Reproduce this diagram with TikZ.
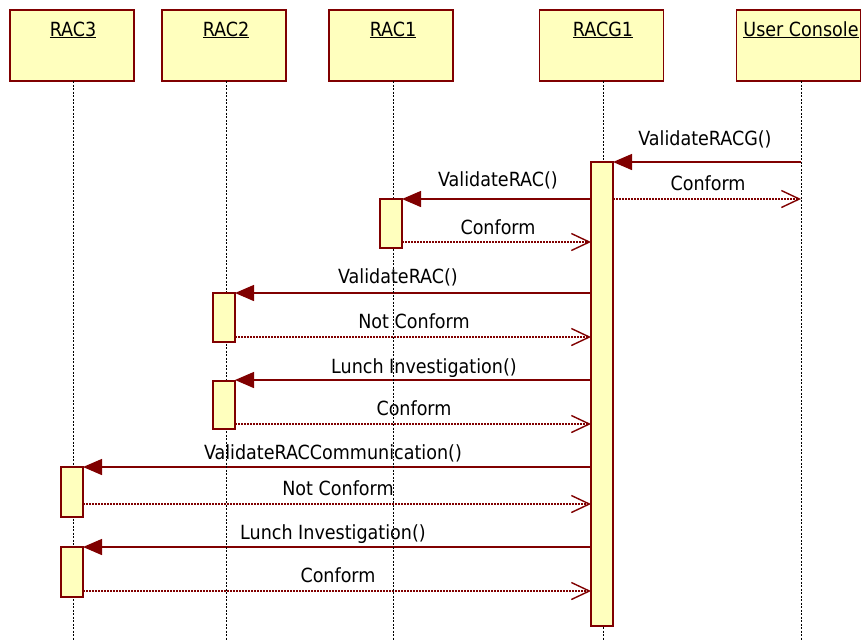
\documentclass[tikz,border=0pt]{standalone}
\usepackage{fontspec}
\setmainfont{DejaVu Sans Condensed}
\usetikzlibrary{arrows.meta}
\definecolor{dred}{RGB}{128,0,0}
\definecolor{lyel}{RGB}{255,255,190}
\tikzset{
  objbox/.style={draw=dred, fill=lyel, line width=1.6pt, minimum width=124pt, minimum height=71pt, inner sep=0pt},
  actbar/.style={draw=dred, fill=lyel, line width=1.4pt},
  lifeline/.style={black, line width=1pt, dash pattern=on 2pt off 1.5pt},
  syncmsg/.style={dred, line width=1.4pt, -{Triangle[length=19pt,width=16pt]}},
  retmsg/.style={dred, line width=1.2pt, dash pattern=on 2pt off 1pt, -{Straight Barb[length=18pt,width=17pt,line width=1.4pt]}},
  lbl/.style={inner sep=0pt, anchor=base, font=\fontsize{19.5}{22}\selectfont},
}
\begin{document}
\begin{tikzpicture}[x=1pt,y=-1pt]
\useasboundingbox (0,0) rectangle (861,641);
% header boxes
\node[objbox] (h3) at (72,45.5) {};
\node[objbox] (h2) at (224,45.5) {};
\node[objbox] (h1) at (391,45.5) {};
\node[objbox] (hg) at (601.5,45.5) {};
\node[objbox] (hu) at (798.5,45.5) {};
\node[lbl] (t3) at (73,36) {\underline{RAC3}};
\node[lbl] (t2) at (226,36) {\underline{RAC2}};
\node[lbl] (t1) at (393,36) {\underline{RAC1}};
\node[lbl] (tg) at (603,36) {\underline{RACG1}};
\node[lbl] (tu) at (801,36) {\underline{User Console}};
% lifeline ends
\coordinate (l3a) at (73,81); \coordinate (l3b) at (73,641);
\coordinate (l2a) at (226,81); \coordinate (l2b) at (226,641);
\coordinate (l1a) at (393,81); \coordinate (l1b) at (393,641);
\coordinate (lga) at (603,81); \coordinate (lgb) at (603,641);
\coordinate (lua) at (801,81); \coordinate (lub) at (801,641);
% activation bar corners
\coordinate (bg1) at (591,162); \coordinate (bg2) at (613,626);
\coordinate (b11) at (380,199); \coordinate (b12) at (402,248);
\coordinate (b21) at (213,293); \coordinate (b22) at (235,342);
\coordinate (b23) at (213,381); \coordinate (b24) at (235,429);
\coordinate (b31) at (61,467);  \coordinate (b32) at (83,517);
\coordinate (b33) at (61,547);  \coordinate (b34) at (83,597);
% message end points
\coordinate (m1s) at (801,162); \coordinate (m1e) at (613,162);
\coordinate (m2s) at (613,199); \coordinate (m2e) at (801,199);
\coordinate (m3s) at (591,199); \coordinate (m3e) at (402,199);
\coordinate (m4s) at (402,242); \coordinate (m4e) at (591,242);
\coordinate (m5s) at (591,293); \coordinate (m5e) at (235,293);
\coordinate (m6s) at (235,337); \coordinate (m6e) at (591,337);
\coordinate (m7s) at (591,380); \coordinate (m7e) at (235,380);
\coordinate (m8s) at (235,424); \coordinate (m8e) at (591,424);
\coordinate (m9s) at (591,467); \coordinate (m9e) at (83,467);
\coordinate (m10s) at (83,504); \coordinate (m10e) at (591,504);
\coordinate (m11s) at (591,547); \coordinate (m11e) at (83,547);
\coordinate (m12s) at (83,591); \coordinate (m12e) at (591,591);
% messages
\draw[syncmsg] (m1s) -- (m1e);
\draw[retmsg] (m2s) -- (m2e);
\draw[syncmsg] (m3s) -- (m3e);
\draw[retmsg] (m4s) -- (m4e);
\draw[syncmsg] (m5s) -- (m5e);
\draw[retmsg] (m6s) -- (m6e);
\draw[syncmsg] (m7s) -- (m7e);
\draw[retmsg] (m8s) -- (m8e);
\draw[syncmsg] (m9s) -- (m9e);
\draw[retmsg] (m10s) -- (m10e);
\draw[syncmsg] (m11s) -- (m11e);
\draw[retmsg] (m12s) -- (m12e);
% labels
\node[lbl] (n1) at (705,145) {ValidateRACG()};
\node[lbl] (n2) at (708,190) {Conform};
\node[lbl] (n3) at (498,186) {ValidateRAC()};
\node[lbl] (n4) at (498,234) {Conform};
\node[lbl] (n5) at (398,283) {ValidateRAC()};
\node[lbl] (n6) at (414,328) {Not Conform};
\node[lbl] (n7) at (424,373) {Lunch Investigation()};
\node[lbl] (n8) at (414,415) {Conform};
\node[lbl] (n9) at (333,459) {ValidateRACCommunication()};
\node[lbl] (n10) at (338,495) {Not Conform};
\node[lbl] (n11) at (333,539) {Lunch Investigation()};
\node[lbl] (n12) at (338,582) {Conform};
% lifelines
\draw[lifeline] (l3a) -- (l3b);
\draw[lifeline] (l2a) -- (l2b);
\draw[lifeline] (l1a) -- (l1b);
\draw[lifeline] (lga) -- (lgb);
\draw[lifeline] (lua) -- (lub);
% activation bars
\draw[actbar] (bg1) rectangle (bg2);
\draw[actbar] (b11) rectangle (b12);
\draw[actbar] (b21) rectangle (b22);
\draw[actbar] (b23) rectangle (b24);
\draw[actbar] (b31) rectangle (b32);
\draw[actbar] (b33) rectangle (b34);
\end{tikzpicture}
\end{document}
